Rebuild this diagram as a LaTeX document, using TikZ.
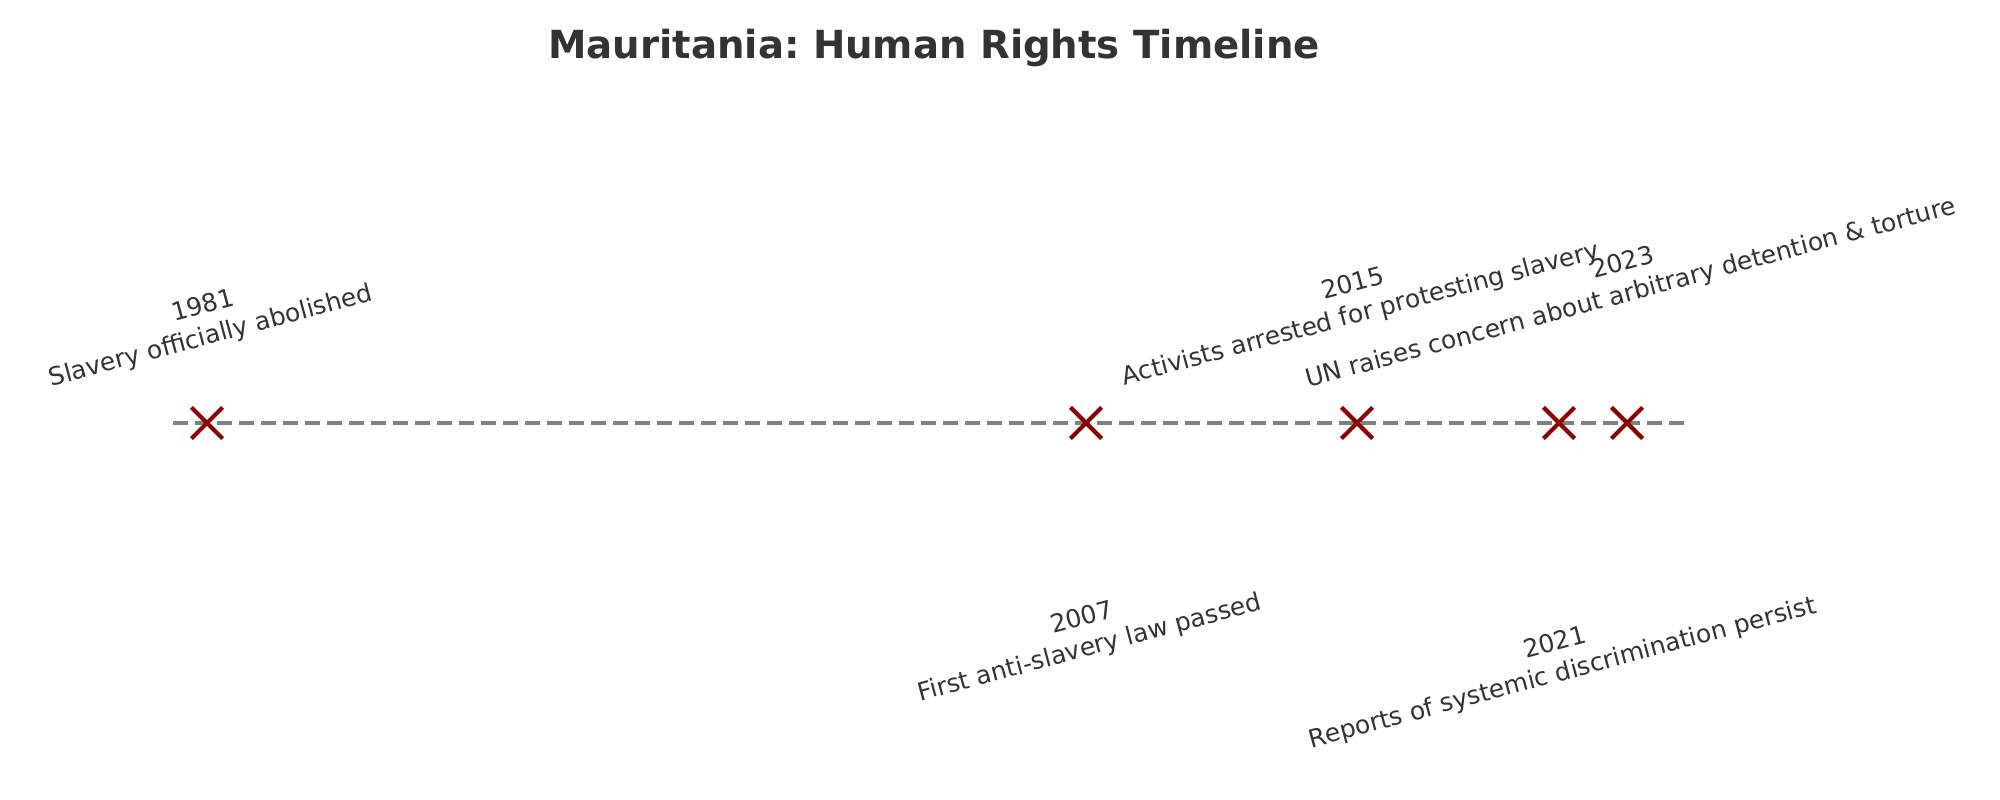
\documentclass[tikz,border=0pt]{standalone}
\usepackage{fontspec}
\setmainfont{DejaVu Sans}
\usetikzlibrary{shapes.misc}
\frenchspacing
\definecolor{inkgray}{HTML}{333333}
\definecolor{axisgray}{HTML}{808080}
\definecolor{markred}{HTML}{8B0000}
\tikzset{
  eventlabel/.style={text=inkgray, rotate=15, align=center, inner sep=0pt,
    font=\fontsize{7.1}{8.8}\selectfont},
  eventmark/.style={cross out, draw=markred, line width=1.2pt,
    minimum size=0.27cm, inner sep=0pt},
  timeline/.style={draw=axisgray, line width=1.18pt, dash pattern=on 4.37pt off 1.89pt}
}
\begin{document}
\begin{tikzpicture}
        \useasboundingbox (0,0) rectangle (20,8);
        \node (title) at (9.34,7.52) {\fontsize{11}{13}\selectfont\bfseries\color{inkgray}Mauritania: Human Rights Timeline};
        \coordinate (start) at (1.73,3.77);
        \coordinate (end) at (16.90,3.77);
        \draw[timeline] (start) -- (end);
        \node[eventmark] (y1981) at (2.07,3.77) {};
        \node[eventmark] (y2007) at (10.86,3.77) {};
        \node[eventmark] (y2015) at (13.57,3.77) {};
        \node[eventmark] (y2021) at (15.59,3.77) {};
        \node[eventmark] (y2023) at (16.27,3.77) {};
        \node[eventlabel] (l1981) at (2.07,4.78) {1981\\Slavery officially abolished};
        \node[eventlabel] (l2007) at (10.86,1.66) {2007\\First anti-slavery law passed};
        \node[eventlabel] (l2015) at (13.57,5.00) {2015\\Activists arrested for protesting slavery};
        \node[eventlabel] (l2021) at (15.59,1.41) {2021\\Reports of systemic discrimination persist};
        \node[eventlabel] (l2023) at (16.27,5.21) {2023\\UN raises concern about arbitrary detention \& torture};
      \end{tikzpicture}
\end{document}
